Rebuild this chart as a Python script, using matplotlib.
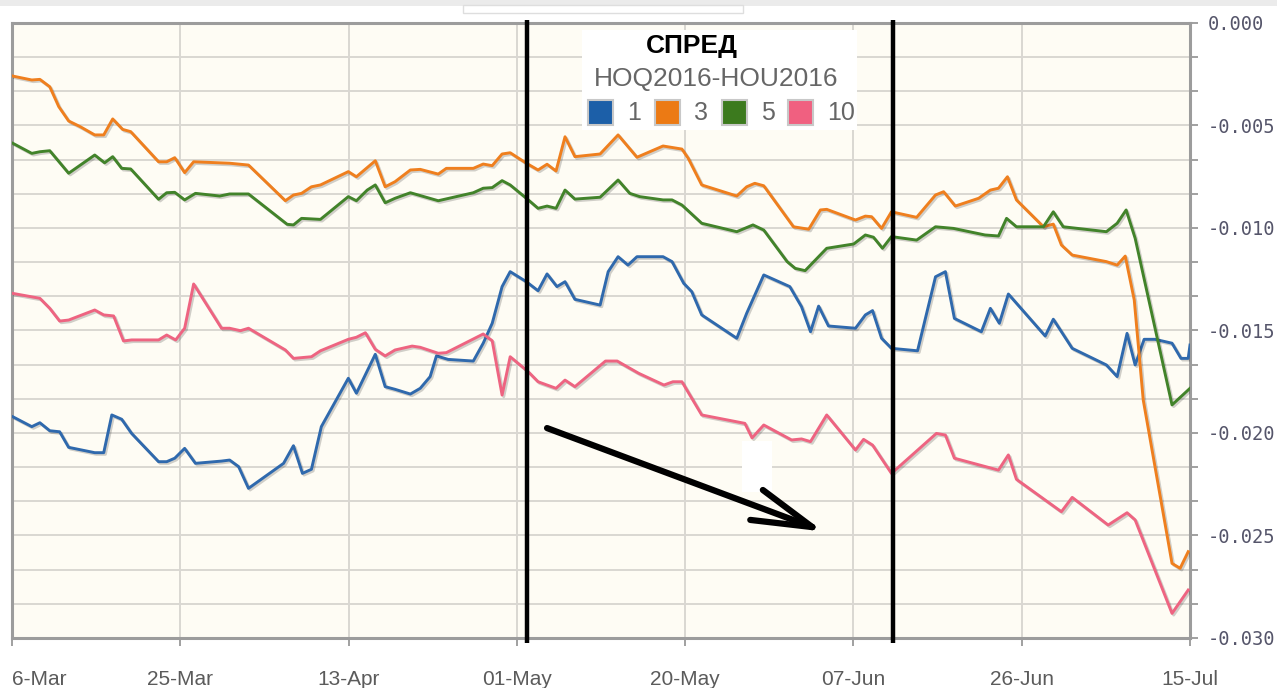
import matplotlib
matplotlib.use("Agg")
import matplotlib.pyplot as plt
import matplotlib.patheffects as pe
from matplotlib.patches import Rectangle
from matplotlib.ticker import MultipleLocator

# ---------------- data (x = days since 6-Mar-2016) ----------------
tick_labels = ['6-Mar', '25-Mar', '13-Apr', '01-May', '20-May', '07-Jun', '26-Jun', '15-Jul']
x_span = 131.0
series_names = ['1', '3', '5', '10']
series_colors = ['#2f69ad', '#ef7f1e', '#42832a', '#ee6481']
legend_colors = ['#1c5fa8', '#ec7a14', '#3c7a1e', '#f06080']

days_1 = [0.1, 2.2, 3.1, 4.2, 5.3, 6.3, 9.2, 10.2, 11.1, 12.2, 13.3, 16.3, 17.2, 18.1, 19.2, 20.4, 23.3, 24.2,
          25.2, 26.3, 30.2, 31.3, 32.3, 33.3, 34.4, 37.4, 38.3, 40.4, 41.5, 42.6, 44.3, 45.4, 46.5, 47.2, 48.5,
          51.3, 52.4, 53.4, 54.5, 55.4, 57.2, 58.5, 59.5, 60.6, 61.5, 62.6, 65.4, 66.3, 67.4, 68.5, 69.5, 72.4,
          73.4, 74.7, 75.6, 76.7, 80.6, 81.7, 83.6, 86.5, 87.8, 88.8, 89.7, 90.8, 93.8, 94.9, 95.7, 96.7, 97.8,
          100.7, 102.7, 103.8, 104.8, 107.8, 108.8, 109.8, 110.8, 114.9, 115.8, 117.9, 121.7, 122.9, 124.0,
          124.9, 125.9, 127.1, 129.0, 130.0, 130.8, 131.0]
spread_1 = [-0.01921, -0.01969, -0.01950, -0.01989, -0.01994, -0.02070, -0.02096, -0.02096, -0.01912, -0.01933,
            -0.02002, -0.02140, -0.02140, -0.02123, -0.02075, -0.02148, -0.02137, -0.02132, -0.02164, -0.02270,
            -0.02148, -0.02062, -0.02197, -0.02177, -0.01969, -0.01733, -0.01806, -0.01616, -0.01774, -0.01787,
            -0.01810, -0.01782, -0.01725, -0.01624, -0.01641, -0.01649, -0.01562, -0.01465, -0.01286, -0.01213,
            -0.01262, -0.01306, -0.01224, -0.01286, -0.01262, -0.01348, -0.01376, -0.01213, -0.01140, -0.01181,
            -0.01140, -0.01140, -0.01164, -0.01270, -0.01311, -0.01424, -0.01538, -0.01416, -0.01229, -0.01286,
            -0.01384, -0.01506, -0.01381, -0.01478, -0.01489, -0.01424, -0.01403, -0.01538, -0.01587, -0.01599,
            -0.01238, -0.01213, -0.01441, -0.01506, -0.01392, -0.01465, -0.01322, -0.01527, -0.01445, -0.01587,
            -0.01668, -0.01725, -0.01514, -0.01668, -0.01543, -0.01543, -0.01562, -0.01636, -0.01636, -0.01571]

days_3 = [0.1, 2.2, 3.1, 4.2, 5.2, 6.3, 7.6, 9.2, 10.2, 11.2, 12.3, 13.2, 16.3, 17.2, 18.1, 19.2, 20.2, 24.2,
          26.3, 30.4, 31.3, 32.2, 33.3, 34.3, 37.4, 38.3, 40.4, 41.5, 42.6, 44.3, 45.4, 47.4, 48.3, 51.3, 52.4,
          53.4, 54.5, 55.4, 57.2, 58.5, 59.5, 60.5, 61.5, 62.6, 65.4, 67.4, 69.5, 72.4, 74.5, 75.2, 76.7, 80.6,
          81.7, 82.6, 83.6, 86.9, 88.6, 89.9, 90.6, 93.8, 94.9, 95.6, 96.7, 97.8, 100.6, 102.7, 103.6, 104.9,
          107.5, 108.8, 109.7, 110.7, 111.7, 114.7, 115.8, 116.7, 117.9, 121.7, 122.9, 123.8, 124.8, 125.8,
          129.0, 129.9, 130.8]
spread_3 = [-0.00259, -0.00278, -0.00275, -0.00311, -0.00408, -0.00478, -0.00506, -0.00546, -0.00546, -0.00468,
            -0.00519, -0.00530, -0.00677, -0.00677, -0.00657, -0.00730, -0.00677, -0.00684, -0.00693, -0.00867,
            -0.00839, -0.00831, -0.00799, -0.00790, -0.00725, -0.00750, -0.00672, -0.00799, -0.00774, -0.00717,
            -0.00714, -0.00737, -0.00709, -0.00709, -0.00688, -0.00696, -0.00639, -0.00633, -0.00684, -0.00717,
            -0.00689, -0.00722, -0.00555, -0.00652, -0.00639, -0.00546, -0.00655, -0.00600, -0.00615, -0.00660,
            -0.00790, -0.00844, -0.00799, -0.00782, -0.00794, -0.00994, -0.01006, -0.00912, -0.00909, -0.00961,
            -0.00942, -0.00945, -0.01002, -0.00921, -0.00948, -0.00839, -0.00823, -0.00893, -0.00855, -0.00815,
            -0.00806, -0.00750, -0.00863, -0.00994, -0.00981, -0.01083, -0.01132, -0.01164, -0.01181, -0.01137,
            -0.01351, -0.01839, -0.02636, -0.02660, -0.02579]

days_5 = [0.1, 2.2, 3.1, 4.2, 6.3, 9.2, 10.3, 11.2, 12.2, 13.2, 16.3, 17.2, 18.1, 19.2, 20.4, 23.1, 24.2, 26.3,
          30.6, 31.3, 32.2, 34.3, 37.4, 38.3, 39.5, 40.4, 41.5, 42.6, 44.3, 47.4, 51.3, 52.4, 53.4, 54.5, 55.4,
          57.2, 58.5, 59.5, 60.5, 61.5, 62.6, 65.4, 67.4, 68.7, 69.8, 72.4, 73.4, 74.5, 76.7, 80.6, 82.4, 83.6,
          86.2, 87.1, 88.2, 90.6, 93.6, 94.9, 95.8, 96.8, 97.8, 100.6, 102.7, 104.7, 108.2, 109.7, 110.6, 111.7,
          114.7, 115.8, 116.9, 121.7, 122.9, 123.9, 124.9, 129.0, 131.0]
spread_5 = [-0.00587, -0.00636, -0.00628, -0.00623, -0.00733, -0.00644, -0.00682, -0.00652, -0.00709, -0.00712,
            -0.00860, -0.00828, -0.00826, -0.00863, -0.00831, -0.00844, -0.00834, -0.00834, -0.00982, -0.00985,
            -0.00953, -0.00958, -0.00847, -0.00867, -0.00815, -0.00790, -0.00877, -0.00855, -0.00828, -0.00867,
            -0.00828, -0.00806, -0.00803, -0.00769, -0.00790, -0.00855, -0.00904, -0.00893, -0.00904, -0.00815,
            -0.00859, -0.00850, -0.00766, -0.00831, -0.00847, -0.00863, -0.00863, -0.00888, -0.00977, -0.01018,
            -0.00985, -0.01010, -0.01164, -0.01197, -0.01208, -0.01099, -0.01078, -0.01034, -0.01045, -0.01099,
            -0.01042, -0.01059, -0.00994, -0.01002, -0.01034, -0.01039, -0.00953, -0.00994, -0.00994, -0.00921,
            -0.00994, -0.01018, -0.00977, -0.00912, -0.01050, -0.01863, -0.01782]

days_10 = [0.1, 3.1, 4.2, 5.3, 6.3, 9.2, 10.2, 11.3, 12.4, 13.3, 16.3, 17.2, 18.2, 19.2, 20.2, 23.3, 24.2, 25.4,
           26.3, 30.4, 31.3, 33.3, 34.3, 37.4, 38.3, 39.3, 40.4, 41.5, 42.6, 44.5, 45.4, 47.4, 48.3, 52.4, 53.4,
           54.5, 55.4, 57.4, 58.5, 60.5, 61.5, 62.6, 66.0, 67.3, 69.7, 72.5, 73.5, 74.5, 76.7, 81.5, 82.3, 83.6,
           86.7, 87.8, 88.8, 90.6, 93.8, 94.7, 95.7, 97.8, 102.8, 103.8, 104.8, 109.7, 110.8, 111.7, 116.7, 117.9,
           121.9, 124.0, 124.9, 129.0, 130.8]
spread_10 = [-0.01319, -0.01343, -0.01392, -0.01454, -0.01449, -0.01400, -0.01424, -0.01429, -0.01551, -0.01546,
             -0.01546, -0.01522, -0.01546, -0.01489, -0.01273, -0.01489, -0.01489, -0.01501, -0.01489, -0.01595,
             -0.01636, -0.01628, -0.01599, -0.01543, -0.01533, -0.01511, -0.01592, -0.01624, -0.01595, -0.01576,
             -0.01582, -0.01611, -0.01608, -0.01517, -0.01550, -0.01815, -0.01628, -0.01701, -0.01750, -0.01782,
             -0.01742, -0.01774, -0.01649, -0.01649, -0.01709, -0.01766, -0.01750, -0.01750, -0.01912, -0.01953,
             -0.02024, -0.01961, -0.02034, -0.02029, -0.02042, -0.01912, -0.02083, -0.02031, -0.02059, -0.02197,
             -0.02002, -0.02010, -0.02123, -0.02181, -0.02107, -0.02226, -0.02384, -0.02314, -0.02449, -0.02389,
             -0.02424, -0.02880, -0.02766]

# hand-drawn annotations (data units)
marker_days = [57.3, 98.0]
arrow_tail = (59.5, -0.01976)
arrow_tip = (89.0, -0.02459)
arrow_barbs = [(83.5, -0.02278), (82.1, -0.02424)]
smudge = (81.2, -0.02288, 3.3, 0.00250)   # x, y, width, height

# ---------------- figure ----------------
W, H = 1277, 688
fig = plt.figure(figsize=(W / 100, H / 100), dpi=100)
fig.patch.set_facecolor('white')

def fx(px):
    return px / W

def fy(py):
    return 1 - py / H

L, R, T, B = 12, 1190, 23, 638
ax = fig.add_axes([fx(L), fy(B), fx(R) - fx(L), fy(T) - fy(B)])
ax.set_facecolor('#fefcf4')
ax.set_xlim(0, x_span)
ax.set_ylim(-0.030, 0.0)

# grid & ticks
xt = [x_span / 7 * k for k in range(8)]
ax.set_xticks(xt)
ax.set_xticklabels(tick_labels)
ax.yaxis.set_major_locator(MultipleLocator(0.005))
ax.yaxis.set_minor_locator(MultipleLocator(0.005 / 3))
ax.set_yticklabels(['%.3f' % v if abs(v) > 1e-9 else '0.000' for v in ax.get_yticks()])
ax.yaxis.tick_right()
ax.grid(True, which='both', axis='y', color='#d9d7d2', lw=1.4)
ax.grid(True, which='major', axis='x', color='#d9d7d2', lw=1.4)
ax.set_axisbelow(True)
ax.tick_params(axis='y', which='both', direction='out', length=6, width=1.4, color='#a0a0a0',
               right=True, left=False, labelright=True, labelleft=False, pad=7)
ax.tick_params(axis='y', which='major', labelsize=13.5, labelcolor='#55556a')
ax.tick_params(axis='x', direction='out', length=6, width=1.4, color='#a0a0a0', pad=17,
               labelsize=15, labelcolor='#5b5b5b')
for lab in ax.get_yticklabels():
    lab.set_family('DejaVu Sans Mono')
for lab in ax.get_xticklabels():
    lab.set_family(['Liberation Sans', 'DejaVu Sans'])
ax.get_xticklabels()[0].set_horizontalalignment('left')

for s in ax.spines.values():
    s.set_color('#9c9c9c')
    s.set_linewidth(2.2)

# white smudge
ax.add_patch(Rectangle(smudge[:2], smudge[2], smudge[3], facecolor='white', edgecolor='none', zorder=1.5))

# series
shadow = [pe.SimpleLineShadow(offset=(1.2, -1.2), alpha=0.18, shadow_color='black'), pe.Normal()]
all_days = [days_1, days_3, days_5, days_10]
all_vals = [spread_1, spread_3, spread_5, spread_10]
for d, v, c in zip(all_days, all_vals, series_colors):
    ax.plot(d, v, color=c, lw=2.1, solid_joinstyle='round', zorder=3, path_effects=shadow)

# black marker lines
trans = ax.get_xaxis_transform()
for md in marker_days:
    ax.plot([md, md], [-0.008, 1.005], transform=trans, color='black', lw=3.2, clip_on=False,
            zorder=5, solid_capstyle='butt')

# hand-drawn arrow
ax.plot([arrow_tail[0], arrow_tip[0]], [arrow_tail[1], arrow_tip[1]], color='black', lw=4.5,
        solid_capstyle='round', zorder=6)
for bx, by in arrow_barbs:
    ax.plot([bx, arrow_tip[0]], [by, arrow_tip[1]], color='black', lw=4.5, solid_capstyle='round', zorder=6)

# top band of page
fig.patches.append(Rectangle((0, fy(6)), 1, fy(0) - fy(6), transform=fig.transFigure,
                             facecolor='#ebebeb', edgecolor='none', zorder=0))
fig.patches.append(Rectangle((fx(463), fy(13)), fx(743) - fx(463), fy(5) - fy(13), transform=fig.transFigure,
                             facecolor='white', edgecolor='#dedede', lw=1, zorder=1))

# legend box
fig.patches.append(Rectangle((fx(582), fy(130)), fx(857) - fx(582), fy(30) - fy(130),
                             transform=fig.transFigure, facecolor='white', edgecolor='none', zorder=7))
fig.text(fx(692), fy(46), 'СПРЕД', ha='center', va='center', fontsize=19, fontweight='bold',
         color='black', family=['Liberation Sans', 'DejaVu Sans'], zorder=8)
fig.text(fx(716), fy(79), 'HOQ2016-HOU2016', ha='center', va='center', fontsize=19,
         color='#666666', family=['Liberation Sans', 'DejaVu Sans'], zorder=8)
sq_left = [588, 655, 722, 788]
lab_left = [627, 694, 761, 827]
for name, col, sx, lx in zip(series_names, legend_colors, sq_left, lab_left):
    fig.patches.append(Rectangle((fx(sx), fy(125)), fx(25), 25 / H, transform=fig.transFigure,
                                 facecolor=col, edgecolor='#c8c8c8', lw=1.5, zorder=8))
    fig.text(fx(lx), fy(113), name, ha='left', va='center', fontsize=18, color='#666666',
             family=['Liberation Sans', 'DejaVu Sans'], zorder=8)

fig.savefig('out.png', dpi=100, facecolor='white')
